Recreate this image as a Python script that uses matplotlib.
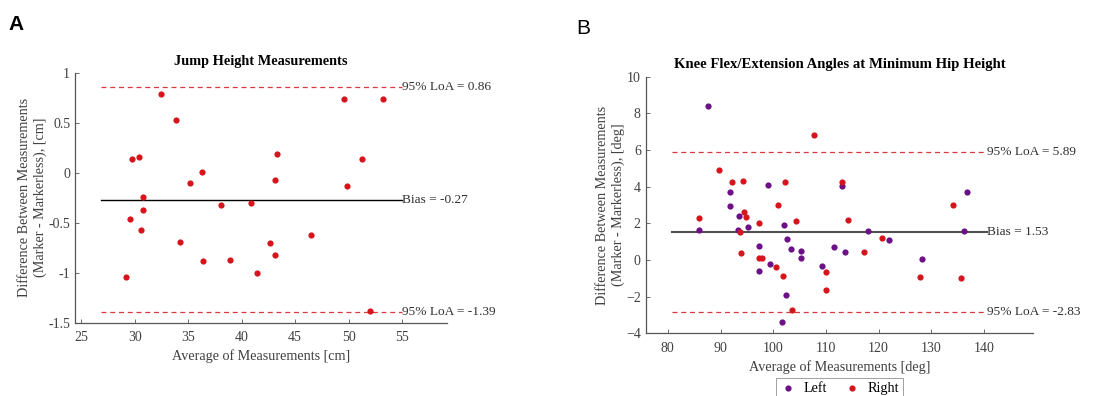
import numpy as np
import matplotlib.pyplot as plt

plt.rcParams['font.family'] = ['Liberation Serif', 'DejaVu Serif']

# Panel A: jump height (cm)
jump_avg = [32.44, 33.81, 29.73, 30.42, 30.73, 30.73, 29.51, 30.54, 29.2, 35.12,
            36.24, 34.21, 36.42, 38.04, 38.91, 40.9, 41.4, 42.68, 43.08, 43.15,
            43.27, 46.48, 49.56, 49.81, 51.24, 53.23, 51.98]
jump_diff = [0.79, 0.53, 0.143, 0.157, -0.237, -0.373, -0.467, -0.57, -1.043, -0.103,
             0.013, -0.697, -0.88, -0.323, -0.873, -0.307, -1.003, -0.70, -0.82, -0.073,
             0.187, -0.62, 0.737, -0.133, 0.14, 0.743, -1.383]
jump_bias = -0.27
jump_loa = [0.86, -1.39]
jump_line_x = [26.87, 55.0]

# Panel B: knee angles (deg)
left_avg = [87.58, 85.87, 91.75, 91.81, 93.58, 93.27, 95.29, 99.08, 97.31, 97.31,
            99.46, 102.05, 102.62, 103.44, 102.43, 101.73, 105.33, 105.33, 109.25, 111.46,
            113.1, 113.54, 117.9, 121.95, 128.2, 136.16, 136.73]
left_diff = [8.38, 1.62, 3.71, 2.96, 2.38, 1.64, 1.82, 4.07, 0.78, -0.58,
             -0.22, 1.91, 1.16, 0.58, -1.89, -3.36, 0.49, 0.11, -0.33, 0.69,
             4.04, 0.45, 1.58, 1.09, 0.055, 1.58, 3.71]
right_avg = [85.87, 89.66, 92.12, 94.33, 94.52, 94.9, 93.77, 93.9, 97.31, 97.25,
             97.88, 100.47, 100.97, 101.92, 102.3, 104.26, 103.56, 107.73, 109.94, 109.94,
             112.98, 114.18, 117.14, 120.55, 127.76, 134.14, 135.53]
right_diff = [2.27, 4.91, 4.27, 4.33, 2.6, 2.36, 1.53, 0.4, 2.02, 0.13,
              0.11, -0.36, 2.98, -0.85, 4.24, 2.11, -2.71, 6.84, -0.64, -1.62,
              4.27, 2.16, 0.45, 1.22, -0.95, 2.98, -1.0]
knee_bias = 1.53
knee_loa = [5.89, -2.83]
knee_line_x = [80.76, 140.6]

red = '#d5141c'
purple = '#6b1086'
gray = '#404040'

fig = plt.figure(figsize=(11.1, 3.96), dpi=100)
axA = fig.add_axes([0.0676, 0.185, 0.335, 0.631])
axB = fig.add_axes([0.5817, 0.1583, 0.349, 0.648])


def style(ax):
    for s in ['top', 'right']:
        ax.spines[s].set_visible(False)
    for s in ['left', 'bottom']:
        ax.spines[s].set_color('#555555')
        ax.spines[s].set_linewidth(0.9)
    ax.tick_params(direction='in', length=3, width=0.6, colors='#555555',
                   labelsize=10, labelcolor=gray)
    ax.tick_params(axis='x', pad=6)


def bland_altman(ax, lx, bias, loa, bias_kw):
    ax.plot(lx, [bias, bias], **bias_kw)
    for v in loa:
        ax.plot(lx, [v, v], color=red, lw=0.9, ls=(0, (4, 3)), alpha=0.85)
        ax.text(lx[1], v, f'95% LoA = {v:.2f}', fontsize=9.6, color='#303030',
                va='center', ha='left')
    ax.text(lx[1], bias, f'Bias = {bias:.2f}', fontsize=9.6, color='#303030',
            va='center', ha='left')


# A
style(axA)
axA.scatter(jump_avg, jump_diff, s=20, color=red, zorder=3, linewidths=0)
bland_altman(axA, jump_line_x, jump_bias, jump_loa, dict(color='black', lw=1.0))
axA.set_xlim(24.4, 59.2)
axA.set_ylim(-1.5, 1)
axA.set_xticks(np.arange(25, 56, 5))
axA.set_yticks([-1.5, -1, -0.5, 0, 0.5, 1])
axA.set_yticklabels(['-1.5', '-1', '-0.5', '0', '0.5', '1'])
axA.set_title('Jump Height Measurements', fontsize=10.3, fontweight='bold', pad=6)
axA.set_xlabel('Average of Measurements [cm]', fontsize=10.2, color=gray, labelpad=4)
axA.set_ylabel('Difference Between Measurements\n(Marker - Markerless), [cm]',
               fontsize=10.2, color=gray, labelpad=1)

# B
style(axB)
axB.scatter(left_avg, left_diff, s=20, color=purple, zorder=3, linewidths=0, label='Left')
axB.scatter(right_avg, right_diff, s=20, color=red, zorder=3, linewidths=0, label='Right')
bland_altman(axB, knee_line_x, knee_bias, knee_loa, dict(color='#505050', lw=1.5))
axB.set_xlim(75.8, 149.3)
axB.set_ylim(-4, 10)
axB.set_xticks(np.arange(80, 141, 10))
axB.set_yticks(np.arange(-4, 11, 2))
axB.set_title('Knee Flex/Extension Angles at Minimum Hip Height', fontsize=10.6,
              fontweight='bold', pad=6)
axB.set_xlabel('Average of Measurements [deg]', fontsize=10.2, color=gray, labelpad=4)
axB.set_ylabel('Difference Between Measurements\n(Marker - Markerless), [deg]',
               fontsize=10.2, color=gray, labelpad=1)
leg = axB.legend(loc='upper center', bbox_to_anchor=(0.5, -0.148), ncol=2,
                 fontsize=10.2, frameon=True, fancybox=False, edgecolor='#888888',
                 handletextpad=0.5, handlelength=1.2, columnspacing=1.2,
                 borderpad=0.25, markerscale=1.0)
leg.get_frame().set_linewidth(0.7)

fig.text(0.008, 0.925, 'A', fontsize=15, fontweight='bold', family='Liberation Sans')
fig.text(0.519, 0.915, 'B', fontsize=15, family='Liberation Sans')

fig.savefig('out.png', dpi=100)
